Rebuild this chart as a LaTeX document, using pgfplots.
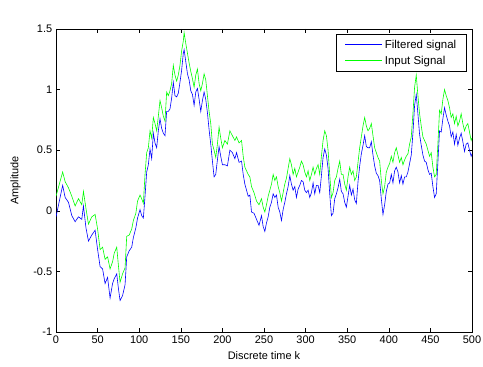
\documentclass[border=0pt]{standalone}
\usepackage{pgfplots}
\pgfplotsset{compat=1.18}
\usepackage{pgfplotstable}
\usepackage{fontspec}
\setmainfont{Liberation Sans}

% k, input signal (green), filtered signal (blue); amplitudes in units of 1e-3
\pgfplotstableread{
k   inp    filt
0   0.12  -0.05
4   0.22   0.08
8   0.32   0.21
11  0.24   0.11
15  0.19   0.07
19  0.12  -0.04
23  0.04  -0.09
27  0.10  -0.05
31  0.05  -0.07
33  0.16   0.04
36  0.02  -0.14
39 -0.11  -0.25
43 -0.05  -0.20
47 -0.03  -0.16
50 -0.15  -0.32
53 -0.32  -0.46
56 -0.30  -0.48
59 -0.40  -0.60
62 -0.38  -0.55
65 -0.48  -0.72
68 -0.42  -0.60
70 -0.35  -0.56
73 -0.30  -0.52
75 -0.45  -0.64
77 -0.59  -0.74
80 -0.52  -0.70
83 -0.47  -0.61
85 -0.21  -0.38
88 -0.20  -0.33
91 -0.15  -0.30
93 -0.08  -0.22
96 -0.02  -0.14
98  0.08  -0.06
101 0.13   0.01
103 0.10  -0.04
105 0.06  -0.06
107 0.30   0.12
109 0.48   0.32
111 0.52   0.38
113 0.66   0.51
115 0.60   0.43
117 0.77   0.64
119 0.72   0.56
121 0.66   0.52
123 0.78   0.66
125 0.91   0.76
127 0.85   0.68
129 0.78   0.64
131 0.74   0.62
133 0.98   0.82
135 0.95   0.82
137 0.99   0.84
139 1.05   0.93
141 1.20   1.06
143 1.12   0.95
145 1.07   0.94
147 1.12   0.97
149 1.20   1.06
151 1.32   1.16
153 1.40   1.30
154 1.47   1.33
156 1.38   1.23
158 1.30   1.13
160 1.22   1.08
162 1.15   0.99
164 1.09   0.96
166 1.02   0.87
168 1.12   0.98
170 1.17   1.01
172 1.05   0.92
174 0.99   0.82
176 1.05   0.91
178 1.13   0.98
180 1.08   0.92
182 0.95   0.81
184 0.82   0.67
186 0.72   0.55
188 0.55   0.41
190 0.50   0.28
192 0.44   0.30
194 0.55   0.42
196 0.69   0.53
198 0.60   0.45
200 0.52   0.38
203 0.58   0.38
206 0.55   0.37
209 0.66   0.50
212 0.62   0.48
215 0.58   0.43
217 0.61   0.48
220 0.56   0.40
223 0.58   0.41
225 0.45   0.30
227 0.36   0.22
229 0.33   0.17
231 0.30   0.12
233 0.28   0.13
235 0.20  -0.01
238 0.15  -0.02
241 0.08  -0.07
244 0.05  -0.12
247 0.10  -0.04
249 0.03  -0.13
251 -0.01 -0.17
253 0.05  -0.10
255 0.12  -0.05
257 0.17   0.03
259 0.22   0.07
261 0.30   0.14
263 0.25   0.11
265 0.28   0.13
267 0.20   0.03
269 0.15  -0.01
271 0.08  -0.08
273 0.15   0.01
275 0.22   0.07
277 0.27   0.14
279 0.35   0.20
281 0.43   0.29
283 0.38   0.22
285 0.30   0.17
287 0.35   0.20
289 0.28   0.11
291 0.32   0.18
293 0.36   0.21
295 0.41   0.25
297 0.38   0.24
299 0.32   0.17
301 0.28   0.15
303 0.33   0.17
305 0.25   0.11
307 0.30   0.15
309 0.36   0.23
311 0.30   0.14
313 0.35   0.21
315 0.38   0.21
317 0.30   0.15
319 0.45   0.29
321 0.58   0.44
323 0.66   0.51
325 0.62   0.46
327 0.50   0.35
329 0.30   0.14
331 0.11  -0.04
333 0.15  -0.02
335 0.25   0.10
337 0.28   0.14
339 0.35   0.19
341 0.41   0.26
343 0.30   0.16
345 0.30   0.14
347 0.22   0.07
349 0.17   0.03
351 0.28   0.12
353 0.36   0.21
355 0.30   0.13
357 0.33   0.18
359 0.25   0.09
361 0.28   0.06
363 0.40   0.24
365 0.52   0.37
367 0.61   0.47
369 0.70   0.54
371 0.77   0.62
373 0.70   0.53
375 0.66   0.52
377 0.68   0.52
379 0.72   0.57
381 0.62   0.46
383 0.52   0.37
385 0.48   0.31
387 0.44   0.29
389 0.41   0.25
391 0.25   0.10
393 0.14  -0.03
395 0.20   0.05
397 0.32   0.16
399 0.36   0.22
401 0.39   0.23
403 0.45   0.30
405 0.40   0.23
407 0.48   0.33
409 0.52   0.36
411 0.46   0.32
413 0.40   0.23
415 0.44   0.29
417 0.38   0.22
419 0.42   0.28
421 0.45   0.28
423 0.47   0.32
425 0.55   0.39
427 0.61   0.46
429 0.80   0.64
431 1.02   0.87
433 1.12   0.96
435 0.95   0.80
437 0.80   0.63
439 0.70   0.54
441 0.61   0.46
443 0.58   0.41
445 0.55   0.40
447 0.50   0.34
449 0.45   0.30
451 0.48   0.31
453 0.36   0.20
455 0.28   0.11
457 0.30   0.14
459 0.55   0.40
461 0.83   0.66
463 0.80   0.65
465 0.92   0.76
467 1.00   0.85
469 0.95   0.79
471 0.91   0.74
473 0.85   0.70
475 0.77   0.61
477 0.80   0.65
479 0.72   0.55
481 0.78   0.63
483 0.70   0.54
485 0.74   0.60
487 0.80   0.64
489 0.72   0.57
491 0.66   0.49
493 0.70   0.55
495 0.72   0.56
497 0.65   0.50
499 0.58   0.45
500 0.60   0.47
}\signals

\begin{document}
\fontsize{11}{13}\selectfont
\begin{tikzpicture}
\useasboundingbox (-56bp,-35bp) rectangle (427bp,332bp);
\begin{axis}[
  scale only axis,
  width=416bp, height=303bp,
  at={(0,0)}, anchor=south west,
  xmin=0, xmax=500, ymin=-1, ymax=1.5,
  xtick={0,50,...,500},
  ytick={-1,-0.5,0,0.5,1,1.5},
  yticklabels={-1,-0.5,0,0.5,1,1.5},
  tick align=inside,
  major tick length=4bp,
  axis line style={black, line width=0.6pt},
  every tick/.style={black, line width=0.5pt},
  /pgf/number format/assume math mode=true,
  tick label style={font=\fontsize{11}{13}\selectfont},
  xlabel={Discrete time k},
  ylabel={Amplitude},
  xlabel style={yshift=0bp},
  ylabel style={yshift=5bp},
  legend cell align=left,
  legend style={at={(1,1)}, anchor=north east, xshift=-5bp, yshift=-5bp,
    draw=black, line width=0.6pt, fill=white,
    inner xsep=8.5bp, inner ysep=3.5bp,
    row sep=2.5bp,
    font=\fontsize{11.5}{13}\selectfont},
  legend image code/.code={\draw[#1, line width=0.9pt] (0bp,0.5bp) -- (37bp,0.5bp);},
  clip=true,
]
\addplot[blue, line width=0.6pt] table[x=k, y=filt] {\signals};
\addlegendentry{Filtered signal}
\addplot[green, line width=0.6pt] table[x=k, y=inp] {\signals};
\addlegendentry{Input Signal}
\node[anchor=base west, inner sep=0pt] at (rel axis cs:0.005,1) [yshift=9bp] {x 10\textsuperscript{-3}};
\node[anchor=base west, inner sep=0pt] at (rel axis cs:0.094,1) [yshift=9bp] {Active Noise Control and Noise Reduction System in parallel};
\end{axis}
\end{tikzpicture}
\end{document}
